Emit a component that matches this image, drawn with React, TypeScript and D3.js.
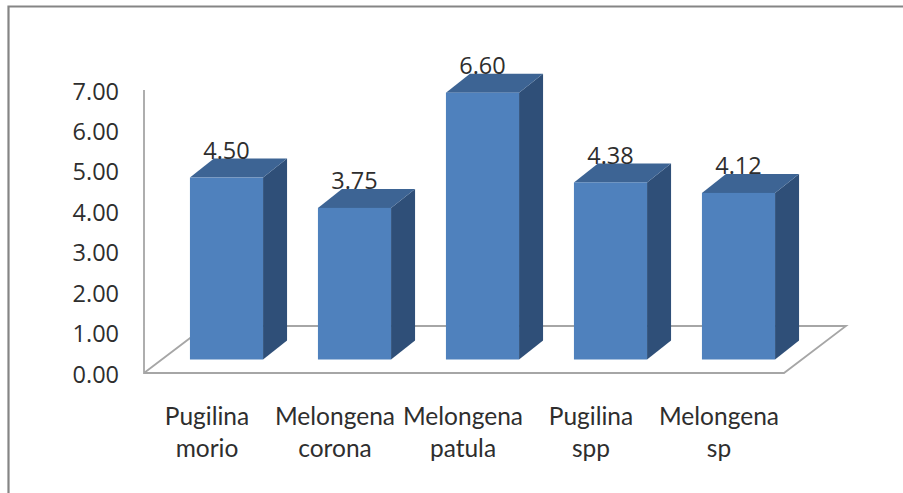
import React from "react";
import * as d3 from "d3";

const species = [
  ["Pugilina", "morio"],
  ["Melongena", "corona"],
  ["Melongena", "patula"],
  ["Pugilina", "spp"],
  ["Melongena", "sp"],
];
const values = [4.5, 3.75, 6.6, 4.38, 4.12];
const ticks = [0, 1, 2, 3, 4, 5, 6, 7];

const W = 903;
const H = 493;
const NUM_FONT = "'Open Sans', sans-serif";
const LABEL_FONT = "Lato, sans-serif";
const INK = "#2e2e2e";

// Oblique projection of the 3D plot box
const x = d3.scaleBand<number>().domain(d3.range(species.length)).range([144, 784]).paddingInner(0.4288).paddingOuter(0.2144);
const y = d3.scaleLinear().domain([0, 7]).range([373, 90]);
const floorDx = 62;
const floorDy = -47;
const barDx = 24;
const barDy = -19;
const barShiftX = 18.5;
const barShiftY = -13.5;

export default function App() {
  const bw = x.bandwidth();
  const pts = (p: number[][]) => p.map((q) => q.join(",")).join(" ");
  return (
    <svg width={W} height={H} style={{ position: "absolute", left: 0, top: 0, background: "#fff" }}>
      {/* outer frame */}
      <path d={`M8.5,${H} V6.5 H${W}`} fill="none" stroke="#858585" strokeWidth={2.2} />
      {/* floor and wall edge */}
      <path
        d={`M${x.range()[0]},${y(7)} V${y(0)} H${x.range()[1]} L${x.range()[1] + floorDx},${y(0) + floorDy} H${x.range()[0] + floorDx} L${x.range()[0]},${y(0)}`}
        fill="none"
        stroke="#a6a6a6"
        strokeWidth={1.8}
      />
      {ticks.map((t) => (
        <text key={t} x={119} y={y(t) + 9.5} textAnchor="end" fontFamily={NUM_FONT} fontSize={23.5} fill={INK}>
          {t.toFixed(2)}
        </text>
      ))}
      {values.map((v, i) => {
        const x0 = x(i)! + barShiftX;
        const x1 = x0 + bw;
        const base = y(0) + barShiftY;
        const top = y(v) + barShiftY;
        return (
          <g key={i}>
            <polygon
              points={pts([[x1, top], [x1 + barDx, top + barDy], [x1 + barDx, base + barDy], [x1, base]])}
              fill="#2f4f78"
            />
            <polygon
              points={pts([[x0, top], [x1, top], [x1 + barDx, top + barDy], [x0 + barDx, top + barDy]])}
              fill="#3d6494"
            />
            <rect x={x0} y={top} width={bw} height={base - top} fill="#4f81bd" />
            <text x={x0 + bw / 2} y={top + barDy + 0.5} textAnchor="middle" fontFamily={NUM_FONT} fontSize={23.5} fill={INK}>
              {v.toFixed(2)}
            </text>
          </g>
        );
      })}
      {species.map((lines, i) => (
        <text key={i} textAnchor="middle" fontFamily={LABEL_FONT} fontSize={24.5} fill={INK}>
          {lines.map((s, j) => (
            <tspan key={j} x={x(i)! + bw / 2 - 1} y={424.5 + j * 32.5}>
              {s}
            </tspan>
          ))}
        </text>
      ))}
    </svg>
  );
}
